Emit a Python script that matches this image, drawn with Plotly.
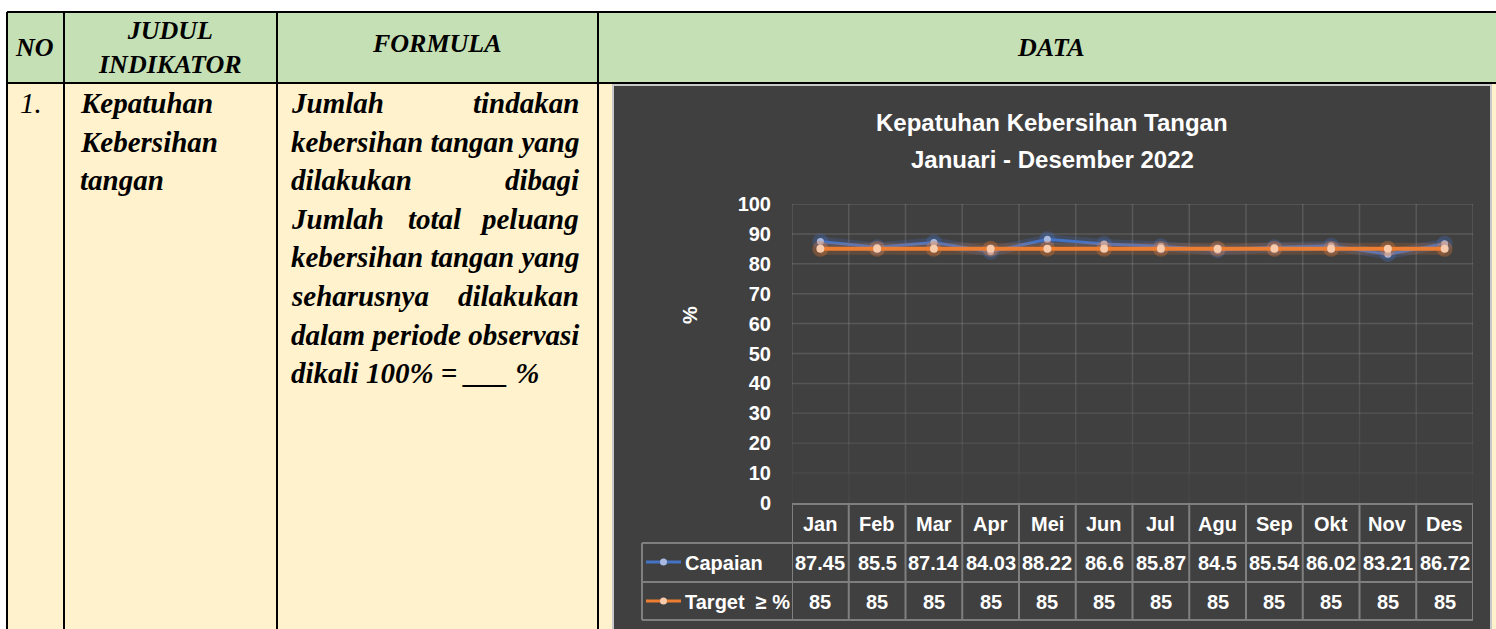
import plotly.graph_objects as go

# --- data -------------------------------------------------------------
months = ['Jan', 'Feb', 'Mar', 'Apr', 'Mei', 'Jun', 'Jul', 'Agu', 'Sep', 'Okt', 'Nov', 'Des']
capaian = [87.45, 85.5, 87.14, 84.03, 88.22, 86.6, 85.87, 84.5, 85.54, 86.02, 83.21, 86.72]
target = [85, 85, 85, 85, 85, 85, 85, 85, 85, 85, 85, 85]
y_ticks = [0, 10, 20, 30, 40, 50, 60, 70, 80, 90, 100]

title_lines = ['Kepatuhan Kebersihan Tangan', 'Januari - Desember 2022']
series_names = ['Capaian', 'Target \u00a0\u2265 %']

headers = ['NO', 'JUDUL<br>INDIKATOR', 'FORMULA', 'DATA']
row_no = '1.'
judul_lines = ['Kepatuhan', 'Kebersihan', 'tangan']
formula_lines = ['Jumlah tindakan', 'kebersihan tangan yang', 'dilakukan dibagi',
                 'Jumlah total peluang', 'kebersihan tangan yang', 'seharusnya dilakukan',
                 'dalam periode observasi', 'dikali 100% = ___ %']
formula_justify = [True, False, True, True, False, True, False, False]

# --- helpers ----------------------------------------------------------
W, H = 1496, 629


def px(x):
    return x / W


def py(y):
    return 1 - y / H


SERIF = 'Liberation Serif, Times New Roman, serif'
SANS = 'Liberation Sans, Arial, sans-serif'
BLUE = '#4472C4'
ORANGE = '#ED7D31'

fig = go.Figure()

# glow + lines
x_idx = list(range(len(months)))
fig.add_trace(go.Scatter(x=x_idx, y=capaian, mode='lines+markers',
                         line=dict(color='rgba(68,114,196,0.22)', width=10),
                         marker=dict(size=16, color='rgba(68,114,196,0.30)'),
                         hoverinfo='skip', showlegend=False))
fig.add_trace(go.Scatter(x=x_idx, y=capaian, mode='lines+markers', name=series_names[0],
                         line=dict(color=BLUE, width=3),
                         marker=dict(size=7, color='#AAB9E0'), showlegend=False))
fig.add_trace(go.Scatter(x=x_idx, y=target, mode='lines+markers',
                         line=dict(color='rgba(237,125,49,0.18)', width=12),
                         marker=dict(size=16, color='rgba(237,125,49,0.30)'),
                         hoverinfo='skip', showlegend=False))
fig.add_trace(go.Scatter(x=x_idx, y=target, mode='lines+markers', name='Target',
                         line=dict(color=ORANGE, width=4),
                         marker=dict(size=8, color='#F8CBAD'), showlegend=False))

shapes = []
# page table backgrounds
shapes.append(dict(type='rect', xref='paper', yref='paper', x0=px(7), x1=1, y0=py(12), y1=py(83),
                   fillcolor='#C5E0B4', line_width=0, layer='below'))
shapes.append(dict(type='rect', xref='paper', yref='paper', x0=px(7), x1=1, y0=0, y1=py(83),
                   fillcolor='#FFF2CC', line_width=0, layer='below'))
# chart area
shapes.append(dict(type='rect', xref='paper', yref='paper', x0=px(613), x1=px(1491), y0=-0.01, y1=py(85),
                   fillcolor='#404040', line=dict(color='#C8C8C8', width=2), layer='below'))
# black table borders
for x in [7, 64, 277, 598]:
    shapes.append(dict(type='line', xref='paper', yref='paper', x0=px(x), x1=px(x), y0=0, y1=py(12),
                       line=dict(color='black', width=2), layer='below'))
for y in [12, 83]:
    shapes.append(dict(type='line', xref='paper', yref='paper', x0=px(7), x1=1, y0=py(y), y1=py(y),
                       line=dict(color='black', width=2), layer='below'))


# gridlines, fading towards the bottom
def grid_col(v):
    a = 0.13 if v >= 50 else 0.025 + 0.105 * v / 50
    return f'rgba(255,255,255,{a:.3f})'


for v in y_ticks[1:]:
    shapes.append(dict(type='line', xref='x', yref='y', x0=-0.5, x1=len(months) - 0.5, y0=v, y1=v,
                       line=dict(color=grid_col(v), width=1.5), layer='below'))
for i in range(len(months) + 1):
    for v in y_ticks[:-1]:
        shapes.append(dict(type='line', xref='x', yref='y', x0=i - 0.5, x1=i - 0.5, y0=v, y1=v + 10,
                           line=dict(color=grid_col(v + 5), width=1.5), layer='below'))

# data table under the plot
TL = '#7F7F7F'
row_y = [504, 543, 582, 620]
shapes.append(dict(type='line', xref='x', yref='paper', x0=-0.5, x1=len(months) - 0.5,
                   y0=py(row_y[0]), y1=py(row_y[0]), line=dict(color=TL, width=2)))
for y in row_y[1:]:
    shapes.append(dict(type='line', xref='paper', yref='paper', x0=px(642), x1=px(1473),
                       y0=py(y), y1=py(y), line=dict(color=TL, width=2)))
for i in range(len(months) + 1):
    shapes.append(dict(type='line', xref='x', yref='paper', x0=i - 0.5, x1=i - 0.5,
                       y0=py(row_y[0]), y1=py(row_y[-1]), line=dict(color=TL, width=2)))
shapes.append(dict(type='line', xref='paper', yref='paper', x0=px(642), x1=px(642),
                   y0=py(row_y[1]), y1=py(row_y[-1]), line=dict(color=TL, width=2)))

# legend keys inside the table
for yy, col, dot in [(562, BLUE, '#AAB9E0'), (601, ORANGE, '#F8CBAD')]:
    shapes.append(dict(type='line', xref='paper', yref='paper', x0=px(646), x1=px(681),
                       y0=py(yy), y1=py(yy), line=dict(color=col, width=3)))
    shapes.append(dict(type='circle', xref='paper', yref='paper', x0=px(660), x1=px(667),
                       y0=py(yy + 3.5), y1=py(yy - 3.5), fillcolor=dot, line_width=0))

ann = []


def label(text, x, y, xref='paper', xanchor='center', size=20, family=SANS, color='white',
          weight='bold', **kw):
    ann.append(dict(text=text, x=x, y=py(y), xref=xref, yref='paper', xanchor=xanchor,
                    yanchor='middle', showarrow=False,
                    font=dict(family=family, size=size, color=color, weight=weight), **kw))


# chart texts
for k, t in enumerate(title_lines):
    label(t, px(1052), 123 + 36 * k, size=24)
label('%', px(690), 315, textangle=-90)
for i, m in enumerate(months):
    label(m, i, 524, xref='x')
    label(str(capaian[i]), i, 563, xref='x')
    label(str(target[i]), i, 602, xref='x')
for name, yy in zip(series_names, [563, 602]):
    label(name, px(683), yy, xanchor='left')


# page table texts
def serif(text, x, y, xanchor='center', size=29, bold=True):
    label(f'<i>{text}</i>', px(x), y, xanchor=xanchor, size=size, family=SERIF, color='black',
          weight='bold' if bold else 'normal')


serif(headers[0], 34, 47, size=26)
serif(headers[1], 170, 47, size=26)
serif(headers[2], 437, 43, size=26)
serif(headers[3], 1050, 47, size=26)
serif(row_no, 31, 103, bold=False)
for k, t in enumerate(judul_lines):
    serif(t, 78, 103 + 38.6 * k, xanchor='left')
for k, (t, just) in enumerate(zip(formula_lines, formula_justify)):
    y = 103 + 38.6 * k
    words = t.split()
    if just and len(words) > 1:
        serif(words[0], 289, y, xanchor='left')
        serif(words[-1], 581, y, xanchor='right')
        for j, w in enumerate(words[1:-1], start=1):
            serif(w, 289 + (581 - 289) * j / (len(words) - 1), y)
    else:
        serif(t, 289, y, xanchor='left')

fig.update_layout(
    width=W, height=H,
    margin=dict(l=0, r=0, t=0, b=0, autoexpand=False),
    paper_bgcolor='white', plot_bgcolor='rgba(0,0,0,0)',
    xaxis=dict(domain=[px(792), px(1473)], range=[-0.5, len(months) - 0.5], automargin=False,
               showgrid=False, zeroline=False, showticklabels=False, fixedrange=True),
    yaxis=dict(domain=[py(503), py(204)], range=[0, 100], tickvals=y_ticks, automargin=False,
               showgrid=False, zeroline=False, ticks='', ticklabelstandoff=20,
               tickfont=dict(family=SANS, size=20, color='white', weight='bold'), fixedrange=True),
    shapes=shapes, annotations=ann, showlegend=False,
)

fig.write_html('out.html', config={'displayModeBar': False},
               post_script="document.body.style.margin='0';document.body.style.overflow='hidden';")
